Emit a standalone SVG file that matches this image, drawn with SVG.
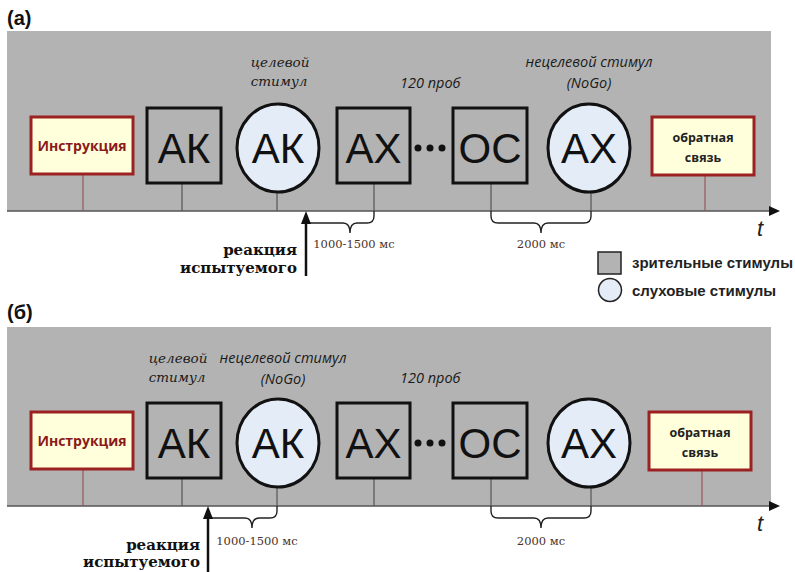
<svg xmlns="http://www.w3.org/2000/svg" width="795" height="572" viewBox="0 0 795 572">
<defs>
<style>
.bg{fill:#b3b3b3}
.sq{fill:#b3b3b3;stroke:#111;stroke-width:3}
.cir{fill:#e4ecf7;stroke:#111;stroke-width:3}
.box{fill:#ffffdc;stroke:#9c2222;stroke-width:3}
.big{font-family:"Liberation Sans",Arial,sans-serif;font-size:42px;fill:#111;text-anchor:middle}
.instr{font-family:"Open Sans","Liberation Sans",sans-serif;font-weight:bold;font-size:14px;fill:#8b1a1a;text-anchor:middle}
.fbt{font-family:"Open Sans","Liberation Sans",sans-serif;font-weight:bold;font-size:12.5px;fill:#222;text-anchor:middle}
.lab{font-family:"DejaVu Serif",serif;font-style:italic;font-size:13.5px;fill:#1a1a1a;text-anchor:middle}
.labs{font-family:"Open Sans","Liberation Sans",sans-serif;font-style:italic;font-size:14.5px;fill:#1a1a1a}
.react{font-family:"DejaVu Serif",serif;font-weight:bold;font-size:15px;fill:#111;text-anchor:end}
.ms{font-family:"DejaVu Serif",serif;font-size:11.5px;fill:#4a3228;text-anchor:middle}
.leg{font-family:"Liberation Sans",Arial,sans-serif;font-weight:bold;font-size:15px;fill:#222}
.pan{font-family:"Liberation Sans",Arial,sans-serif;font-weight:bold;font-size:20px;fill:#111}
.t{font-family:"Liberation Sans",Arial,sans-serif;font-style:italic;font-size:22px;fill:#222}
.stem{stroke:#555;stroke-width:1.2;fill:none}
.rstem{stroke:#9a5555;stroke-width:1.2;fill:none}
.axis{stroke:#555;stroke-width:1.5;fill:none}
.brace{stroke:#222;stroke-width:1.4;fill:none}
.rarr{stroke:#111;stroke-width:2.5;fill:none}
</style>
</defs>

<!-- Panel a -->
<g id="panel-a">
<text class="pan" x="7" y="25">(а)</text>
<rect class="bg" x="7" y="31" width="764" height="180"/>
<g id="a-connectors">
<line class="axis" x1="7" y1="211" x2="772" y2="211"/>
<polygon points="769,206 780,211 769,216" fill="#111"/>
<line class="rstem" x1="83" y1="174" x2="83" y2="211"/>
<line class="stem" x1="182" y1="183" x2="182" y2="211"/>
<line class="stem" x1="277" y1="192" x2="277" y2="211"/>
<line class="stem" x1="374" y1="183" x2="374" y2="211"/>
<line class="stem" x1="491" y1="183" x2="491" y2="211"/>
<line class="stem" x1="591" y1="192" x2="591" y2="211"/>
<line class="rstem" x1="705" y1="175" x2="705" y2="211"/>
<path class="brace" d="M306,223 L343,223 Q350,223 350,233 Q350,223 357,223 L367,223 Q374,223 374,216 L374,211"/>
<path class="brace" d="M491,211 L491,216 Q491,223 498,223 L534,223 Q541,223 541,233 Q541,223 548,223 L584,223 Q591,223 591,216 L591,211"/>
<line class="rarr" x1="306" y1="276" x2="306" y2="222"/>
<polygon points="301,224 306,211 311,224" fill="#111"/>
</g>
<g id="a-instr"><rect class="box" x="31" y="117" width="102" height="57"/><text class="instr" x="82" y="151">Инструкция</text></g>
<g id="a-ak1"><rect class="sq" x="147" y="108" width="74" height="75"/><text class="big" x="184" y="163">АК</text></g>
<g id="a-ak2"><ellipse class="cir" cx="278" cy="148" rx="41" ry="44"/><text class="big" x="278" y="163">АК</text></g>
<g id="a-ax1"><rect class="sq" x="337" y="108" width="73" height="75"/><text class="big" x="373.5" y="163">АХ</text></g>
<g id="a-dots"><circle cx="418" cy="148" r="3.5" fill="#111"/><circle cx="430" cy="148" r="3.5" fill="#111"/><circle cx="442" cy="148" r="3.5" fill="#111"/></g>
<g id="a-oc"><rect class="sq" x="453" y="108" width="74" height="75"/><text class="big" x="490" y="163">ОС</text></g>
<g id="a-ax2"><ellipse class="cir" cx="589" cy="148" rx="41" ry="44"/><text class="big" x="589" y="163">АХ</text></g>
<g id="a-fb"><rect class="box" x="652" y="117" width="102" height="58"/><text class="fbt" x="703" y="142">обратная</text><text class="fbt" x="703" y="162">связь</text></g>
<g id="a-labels">
<text class="lab" x="280" y="67">целевой</text>
<text class="lab" x="279" y="86">стимул</text>
<text class="labs" x="400" y="88">120 проб</text>
<text class="labs" x="589" y="67" text-anchor="middle">нецелевой стимул</text>
<text class="labs" x="589" y="88" text-anchor="middle">(NoGo)</text>
<text class="ms" x="354" y="248">1000-1500 мс</text>
<text class="ms" x="541" y="248">2000 мс</text>
<text class="react" x="297" y="255">реакция</text>
<text class="react" x="297" y="273">испытуемого</text>
<text class="t" x="757" y="236">t</text>
</g>
</g>

<!-- Legend -->
<g id="legend">
<rect x="598" y="252" width="23" height="22" fill="#b3b3b3" stroke="#222" stroke-width="1.5"/>
<text class="leg" x="632" y="268">зрительные стимулы</text>
<circle cx="610" cy="290" r="11.5" fill="#e4ecf7" stroke="#222" stroke-width="1.5"/>
<text class="leg" x="632" y="296">слуховые стимулы</text>
</g>

<!-- Panel b -->
<g id="panel-b" transform="translate(0,295)">
<text class="pan" x="7" y="24">(б)</text>
<rect class="bg" x="7" y="32" width="764" height="179"/>
<g id="b-connectors">
<line class="axis" x1="7" y1="211" x2="772" y2="211"/>
<polygon points="769,206 780,211 769,216" fill="#111"/>
<line class="rstem" x1="83" y1="174" x2="83" y2="211"/>
<line class="stem" x1="182" y1="183" x2="182" y2="211"/>
<line class="stem" x1="277" y1="192" x2="277" y2="211"/>
<line class="stem" x1="374" y1="183" x2="374" y2="211"/>
<line class="stem" x1="491" y1="183" x2="491" y2="211"/>
<line class="stem" x1="591" y1="192" x2="591" y2="211"/>
<line class="rstem" x1="702" y1="175" x2="702" y2="211"/>
<path class="brace" d="M208,223 L245,223 Q252,223 252,233 Q252,223 259,223 L270,223 Q277,223 277,216 L277,211"/>
<path class="brace" d="M491,211 L491,216 Q491,223 498,223 L534,223 Q541,223 541,233 Q541,223 548,223 L584,223 Q591,223 591,216 L591,211"/>
<line class="rarr" x1="208" y1="290" x2="208" y2="222"/>
<polygon points="203,224 208,211 213,224" fill="#111"/>
</g>
<g id="b-instr"><rect class="box" x="31" y="117" width="102" height="57"/><text class="instr" x="82" y="151">Инструкция</text></g>
<g id="b-ak1"><rect class="sq" x="147" y="108" width="74" height="75"/><text class="big" x="184" y="163">АК</text></g>
<g id="b-ak2"><ellipse class="cir" cx="278" cy="148" rx="41" ry="44"/><text class="big" x="278" y="163">АК</text></g>
<g id="b-ax1"><rect class="sq" x="337" y="108" width="73" height="75"/><text class="big" x="373.5" y="163">АХ</text></g>
<g id="b-dots"><circle cx="418" cy="148" r="3.5" fill="#111"/><circle cx="430" cy="148" r="3.5" fill="#111"/><circle cx="442" cy="148" r="3.5" fill="#111"/></g>
<g id="b-oc"><rect class="sq" x="453" y="108" width="74" height="75"/><text class="big" x="490" y="163">ОС</text></g>
<g id="b-ax2"><ellipse class="cir" cx="589" cy="148" rx="41" ry="44"/><text class="big" x="589" y="163">АХ</text></g>
<g id="b-fb"><rect class="box" x="649" y="117" width="102" height="58"/><text class="fbt" x="700" y="142">обратная</text><text class="fbt" x="700" y="162">связь</text></g>
<g id="b-labels">
<text class="lab" x="178" y="68">целевой</text>
<text class="lab" x="177" y="87">стимул</text>
<text class="labs" x="283" y="68" text-anchor="middle">нецелевой стимул</text>
<text class="labs" x="283" y="89" text-anchor="middle">(NoGo)</text>
<text class="labs" x="400" y="88">120 проб</text>
<text class="ms" x="257" y="250">1000-1500 мс</text>
<text class="ms" x="541" y="250">2000 мс</text>
<text class="react" x="200" y="255">реакция</text>
<text class="react" x="200" y="272">испытуемого</text>
<text class="t" x="757" y="236">t</text>
</g>
</g>
</svg>
